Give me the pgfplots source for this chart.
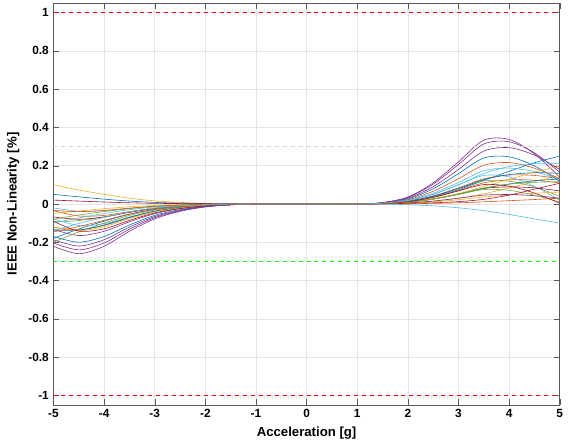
\documentclass[border=2pt]{standalone}
\usepackage{pgfplots}
\pgfplotsset{compat=1.18}
\usepackage{fontspec}
\setmainfont{Liberation Sans}
\definecolor{c1}{rgb}{0,0.447,0.741}
\definecolor{c2}{rgb}{0.85,0.325,0.098}
\definecolor{c3}{rgb}{0.929,0.694,0.125}
\definecolor{c4}{rgb}{0.494,0.184,0.556}
\definecolor{c5}{rgb}{0.466,0.674,0.188}
\definecolor{c6}{rgb}{0.301,0.745,0.933}
\definecolor{c7}{rgb}{0.635,0.078,0.184}
\definecolor{lred}{rgb}{1,0,0}
\definecolor{lgreen}{rgb}{0,1,0}
\begin{document}
\begin{tikzpicture}
\begin{axis}[scale only axis, width=384pt, height=305pt,
 xmin=-5, xmax=5, ymin=-1.05, ymax=1.05,
 xtick={-5,...,5}, ytick={-1,-0.8,...,1.01},
 /pgf/number format/assume math mode=true,
 ticklabel style={font=\bfseries\small},
 yticklabel style={/pgf/number format/fixed,/pgf/number format/precision=1},
 xlabel={\bfseries Acceleration [g]}, ylabel={\bfseries IEEE Non-Linearity [\%]},
 grid=major, major grid style={gray!20}, axis line style={gray!70!black},
 tick align=inside, tick style={gray!70!black},
 every axis plot/.append style={line width=0.45pt, smooth}]
\addplot[c4] coordinates {(-5,-.221)(-4.5,-.26)(-4,-.221)(-3.5,-.143)(-3,-.078)(-2.5,-.039)(-2,-.016)(-1.5,-.005)(-1,0)(0,0)(1,0)(1.5,.007)(2,.036)(2.5,.11)(3,.22)(3.5,.333)(4,.337)(4.5,.262)(5,.14)};
\addplot[c4] coordinates {(-5,-.204)(-4.5,-.24)(-4,-.204)(-3.5,-.132)(-3,-.072)(-2.5,-.036)(-2,-.014)(-1.5,-.005)(-1,0)(0,0)(1,0)(1.5,.006)(2,.03)(2.5,.09)(3,.18)(3.5,.276)(4,.294)(4.5,.255)(5,.18)};
\addplot[c4] coordinates {(-5,-.187)(-4.5,-.22)(-4,-.187)(-3.5,-.121)(-3,-.066)(-2.5,-.033)(-2,-.013)(-1.5,-.004)(-1,0)(0,0)(1,0)(1.5,.007)(2,.034)(2.5,.103)(3,.206)(3.5,.313)(4,.325)(4.5,.267)(5,.166)};
\addplot[c1] coordinates {(-5,-.17)(-4.5,-.2)(-4,-.17)(-3.5,-.11)(-3,-.06)(-2.5,-.03)(-2,-.012)(-1.5,-.004)(-1,0)(0,0)(1,0)(1.5,.005)(2,.026)(2.5,.079)(3,.158)(3.5,.24)(4,.246)(4.5,.199)(5,.118)};
\addplot[c1] coordinates {(-5,-.18)(-4.5,-.131)(-4,-.09)(-3.5,-.054)(-3,-.029)(-2.5,-.014)(-2,-.005)(-1.5,-.002)(-1,0)(0,0)(1,0)(1.5,.003)(2,.014)(2.5,.037)(3,.074)(3.5,.123)(4,.17)(4.5,.215)(5,.25)};
\addplot[c2] coordinates {(-5,-.035)(-4.5,-.063)(-4,-.06)(-3.5,-.04)(-3,-.022)(-2.5,-.011)(-2,-.004)(-1.5,-.002)(-1,0)(0,0)(1,0)(1.5,.0025)(2,.012)(2.5,.035)(3,.07)(3.5,.11)(4,.126)(4.5,.124)(5,.11)};
\addplot[c3] coordinates {(-5,.1)(-4.5,.073)(-4,.05)(-3.5,.03)(-3,.016)(-2.5,.008)(-2,.003)(-1.5,.001)(-1,0)(0,0)(1,0)(1.5,.0015)(2,.006)(2.5,.015)(3,.03)(3.5,.053)(4,.083)(4.5,.117)(5,.15)};
\addplot[c5] coordinates {(-5,-.093)(-4.5,-.087)(-4,-.068)(-3.5,-.043)(-3,-.023)(-2.5,-.012)(-2,-.005)(-1.5,-.001)(-1,0)(0,0)(1,0)(1.5,.0025)(2,.013)(2.5,.04)(3,.08)(3.5,.12)(4,.119)(4.5,.089)(5,.04)};
\addplot[c6] coordinates {(-5,-.078)(-4.5,-.113)(-4,-.103)(-3.5,-.068)(-3,-.037)(-2.5,-.019)(-2,-.007)(-1.5,-.003)(-1,0)(0,0)(1,0)(1.5,.003)(2,.016)(2.5,.05)(3,.1)(3.5,.149)(4,.141)(4.5,.092)(5,.02)};
\addplot[c6] coordinates {(-5,-.1)(-4.5,-.073)(-4,-.05)(-3.5,-.03)(-3,-.016)(-2.5,-.008)(-2,-.003)(-1.5,-.001)(-1,0)(0,0)(1,0)(1.5,-.001)(2,-.004)(2.5,-.01)(3,-.02)(3.5,-.035)(4,-.055)(4.5,-.078)(5,-.1)};
\addplot[c7] coordinates {(-5,-.068)(-4.5,-.08)(-4,-.068)(-3.5,-.044)(-3,-.024)(-2.5,-.012)(-2,-.005)(-1.5,-.002)(-1,0)(0,0)(1,0)(1.5,.0018)(2,.0088)(2.5,.026)(3,.052)(3.5,.081)(4,.089)(4.5,.084)(5,.068)};
\addplot[c1] coordinates {(-5,.05)(-4.5,.037)(-4,.025)(-3.5,.015)(-3,.008)(-2.5,.004)(-2,.002)(-1.5,.001)(-1,0)(0,0)(1,0)(1.5,.002)(2,.009)(2.5,.025)(3,.05)(3.5,.081)(4,.104)(4.5,.121)(5,.13)};
\addplot[c2] coordinates {(-5,-.122)(-4.5,-.135)(-4,-.112)(-3.5,-.072)(-3,-.039)(-2.5,-.02)(-2,-.008)(-1.5,-.002)(-1,0)(0,0)(1,0)(1.5,.003)(2,.014)(2.5,.042)(3,.084)(3.5,.131)(4,.151)(4.5,.149)(5,.132)};
\addplot[c3] coordinates {(-5,-.05)(-4.5,-.037)(-4,-.025)(-3.5,-.015)(-3,-.008)(-2.5,-.004)(-2,-.002)(-1.5,-.001)(-1,0)(0,0)(1,0)(1.5,.001)(2,.004)(2.5,.011)(3,.022)(3.5,.036)(4,.047)(4.5,.056)(5,.062)};
\addplot[c4] coordinates {(-5,-.133)(-4.5,-.165)(-4,-.143)(-3.5,-.093)(-3,-.051)(-2.5,-.025)(-2,-.01)(-1.5,-.004)(-1,0)(0,0)(1,0)(1.5,.001)(2,.005)(2.5,.015)(3,.03)(3.5,.046)(4,.049)(4.5,.043)(5,.03)};
\addplot[c5] coordinates {(-5,-.2)(-4.5,-.146)(-4,-.1)(-3.5,-.06)(-3,-.032)(-2.5,-.016)(-2,-.006)(-1.5,-.002)(-1,0)(0,0)(1,0)(1.5,.0015)(2,.008)(2.5,.025)(3,.05)(3.5,.075)(4,.071)(4.5,.046)(5,.01)};
\addplot[c6] coordinates {(-5,-.021)(-4.5,-.038)(-4,-.036)(-3.5,-.024)(-3,-.013)(-2.5,-.007)(-2,-.003)(-1.5,-.001)(-1,0)(0,0)(1,0)(1.5,.0038)(2,.019)(2.5,.056)(3,.112)(3.5,.173)(4,.187)(4.5,.169)(5,.128)};
\addplot[c7] coordinates {(-5,.02)(-4.5,.015)(-4,.01)(-3.5,.006)(-3,.003)(-2.5,.002)(-2,.001)(-1.5,0)(-1,0)(0,0)(1,0)(1.5,.0008)(2,.003)(2.5,.006)(3,.012)(3.5,.024)(4,.046)(4.5,.077)(5,.108)};
\addplot[c1] coordinates {(-5,-.135)(-4.5,-.137)(-4,-.11)(-3.5,-.07)(-3,-.038)(-2.5,-.019)(-2,-.008)(-1.5,-.003)(-1,0)(0,0)(1,0)(1.5,.003)(2,.014)(2.5,.04)(3,.08)(3.5,.127)(4,.153)(4.5,.163)(5,.16)};
\addplot[c2] coordinates {(-5,-.146)(-4.5,-.118)(-4,-.086)(-3.5,-.053)(-3,-.028)(-2.5,-.015)(-2,-.006)(-1.5,-.002)(-1,0)(0,0)(1,0)(1.5,.004)(2,.022)(2.5,.066)(3,.132)(3.5,.202)(4,.216)(4.5,.187)(5,.132)};
\addplot[c3] coordinates {(-5,-.119)(-4.5,-.14)(-4,-.119)(-3.5,-.077)(-3,-.042)(-2.5,-.021)(-2,-.008)(-1.5,-.003)(-1,0)(0,0)(1,0)(1.5,.002)(2,.01)(2.5,.027)(3,.054)(3.5,.091)(4,.128)(4.5,.166)(5,.198)};
\addplot[c5] coordinates {(-5,-.08)(-4.5,-.058)(-4,-.04)(-3.5,-.024)(-3,-.013)(-2.5,-.006)(-2,-.002)(-1.5,-.001)(-1,0)(0,0)(1,0)(1.5,.002)(2,.009)(2.5,.026)(3,.052)(3.5,.083)(4,.103)(4.5,.113)(5,.116)};
\addplot[c7] coordinates {(-5,-.09)(-4.5,-.142)(-4,-.13)(-3.5,-.086)(-3,-.047)(-2.5,-.024)(-2,-.01)(-1.5,-.004)(-1,0)(0,0)(1,0)(1.5,.002)(2,.011)(2.5,.034)(3,.068)(3.5,.101)(4,.093)(4.5,.057)(5,.004)};
\addplot[c2] coordinates {(-5,-.034)(-4.5,-.04)(-4,-.034)(-3.5,-.022)(-3,-.012)(-2.5,-.006)(-2,-.002)(-1.5,-.001)(-1,0)(0,0)(1,0)(1.5,0)(2,.001)(2.5,.003)(3,.006)(3.5,.011)(4,.017)(4.5,.023)(5,.03)};
\addplot[c6] coordinates {(-5,-.14)(-4.5,-.102)(-4,-.07)(-3.5,-.042)(-3,-.022)(-2.5,-.011)(-2,-.004)(-1.5,-.001)(-1,0)(0,0)(1,0)(1.5,.004)(2,.018)(2.5,.05)(3,.1)(3.5,.159)(4,.195)(4.5,.211)(5,.212)};
\draw[color=lred, dashed, line width=0.9pt] (axis cs:-5,1) -- (axis cs:5,1);
\draw[color=lred, dashed, line width=0.9pt] (axis cs:-5,-1) -- (axis cs:5,-1);
\draw[color=lgreen, dashed, line width=0.9pt] (axis cs:-5,-0.3) -- (axis cs:5,-0.3);
\draw[color=gray!30, dashed, line width=0.6pt] (axis cs:-5,0.3) -- (axis cs:5,0.3);
\end{axis}
\end{tikzpicture}
\end{document}
